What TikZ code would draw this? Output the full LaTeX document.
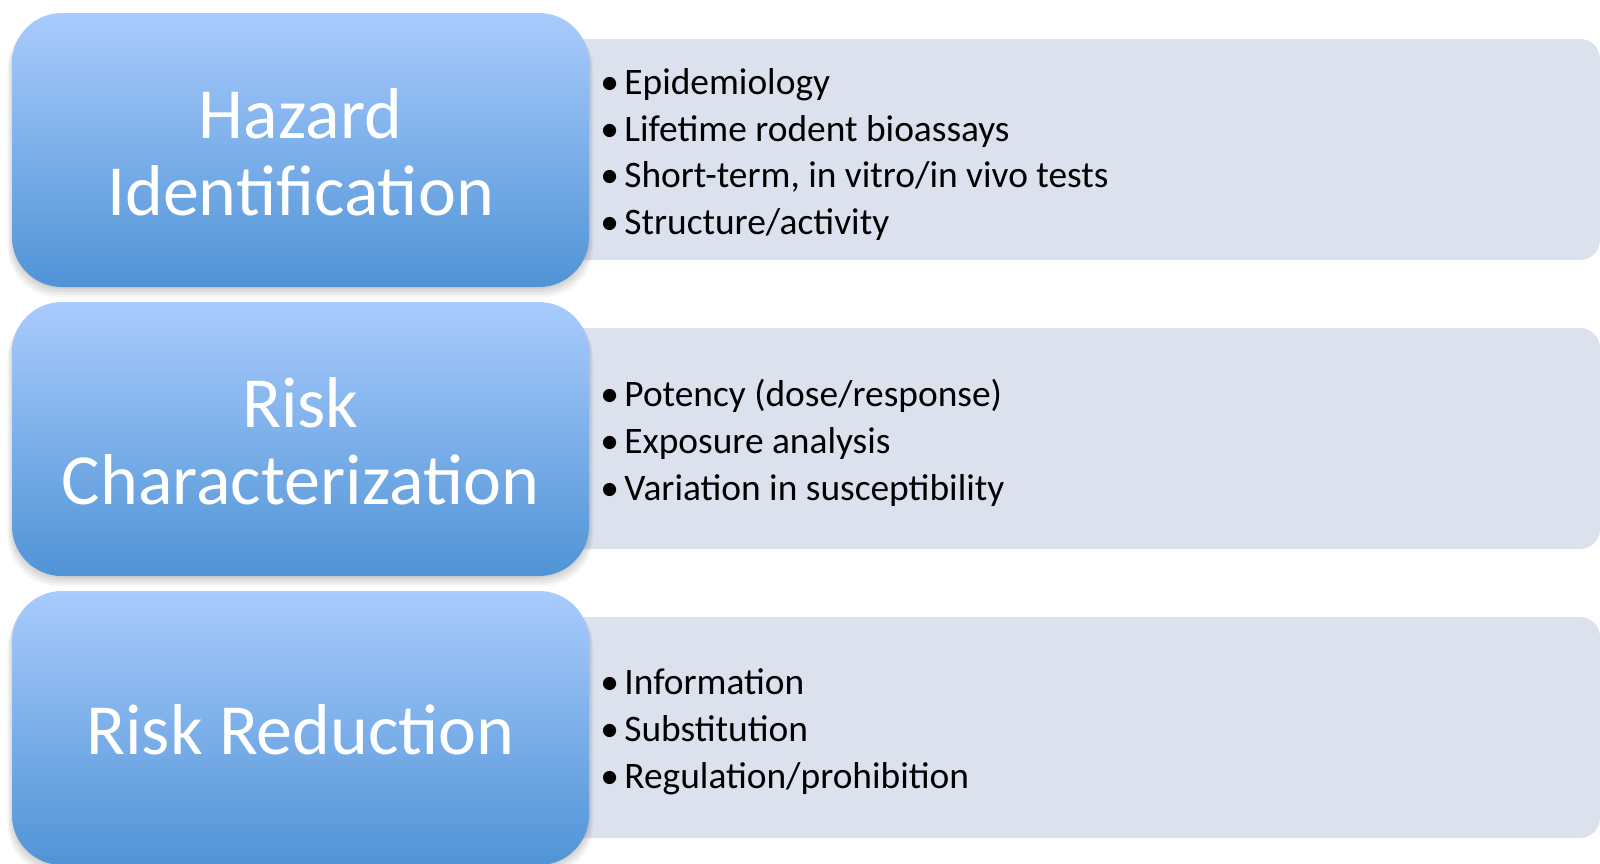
\documentclass[tikz,border=0pt]{standalone}
\usepackage{fontspec}
\setmainfont{Carlito}
\usetikzlibrary{shadows}
\definecolor{stageTop}{RGB}{169,203,253}
\definecolor{stageBot}{RGB}{80,148,214}
\definecolor{panelFill}{RGB}{220,225,238}
\newcommand\bulletitem[1]{\makebox[12pt][l]{•}#1}
\begin{document}
\begin{tikzpicture}[x=0.5pt,y=-0.5pt,
  stage/.style={rounded corners=25pt, minimum width=288.5pt, minimum height=137pt,
    top color=stageTop, bottom color=stageBot, inner sep=0pt,
    general shadow={fill=black, opacity=0.05, shadow yshift=-1pt, shadow scale=1.0},
    general shadow={fill=black, opacity=0.05, shadow yshift=-2pt, shadow scale=1.005},
    general shadow={fill=black, opacity=0.05, shadow yshift=-3pt, shadow scale=1.01},
    general shadow={fill=black, opacity=0.04, shadow yshift=-4pt, shadow scale=1.015}},
  stagetitle/.style={text=white, align=center, inner sep=0pt,
    font=\fontsize{36}{38.5}\selectfont},
  panel/.style={rounded corners=10pt, minimum width=520pt, minimum height=110.5pt,
    fill=panelFill, inner sep=0pt},
  items/.style={anchor=west, align=left, font=\fontsize{18.7}{23.4}\selectfont,
    inner sep=0pt, text=black}]
\useasboundingbox (0,0) rectangle (1600,863);

% detail panels behind the stage boxes
\node[panel] (p1) at (1080,149.5) {};
\node[panel] (p2) at (1080,438.5) {};
\node[panel] (p3) at (1080,727.5) {};

% stage boxes and their titles
\node[stage] (s1) at (300.5,150) {};
\node[stage] (s2) at (300.5,439) {};
\node[stage] (s3) at (300.5,728) {};
\node[stagetitle] (t1) at ([yshift=-1pt]s1.center) {Hazard\\Identification};
\node[stagetitle] (t2) at ([yshift=-1pt]s2.center) {Risk\\Characterization};
\node[stagetitle] (t3) at ([yshift=-1pt]s3.center) {Risk Reduction};

% bullet lists
\node[items] (l1) at (600,154.5) {\bulletitem{Epidemiology}\\
  \bulletitem{Lifetime rodent bioassays}\\
  \bulletitem{Short-term, in vitro/in vivo tests}\\
  \bulletitem{Structure/activity}};
\node[items] (l2) at (600,443) {\bulletitem{Potency (dose/response)}\\
  \bulletitem{Exposure analysis}\\
  \bulletitem{Variation in susceptibility}};
\node[items] (l3) at (600,732) {\bulletitem{Information}\\
  \bulletitem{Substitution}\\
  \bulletitem{Regulation/prohibition}};
\end{tikzpicture}
\end{document}
